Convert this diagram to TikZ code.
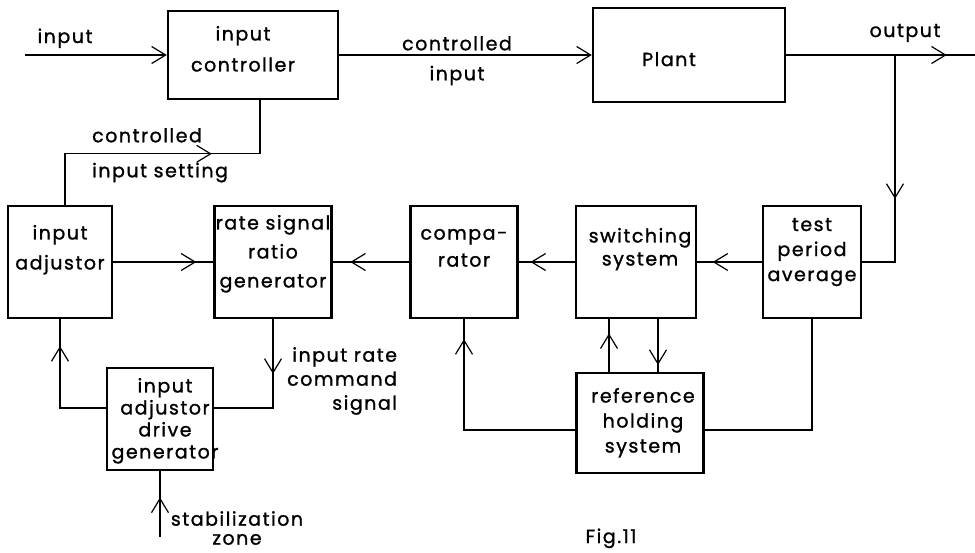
\documentclass[tikz,border=0pt]{standalone}
\usepackage{fontspec}
\setmainfont{Poppins}[LetterSpace=8, FakeBold=1.2]
\usetikzlibrary{positioning}
\usetikzlibrary{arrows.meta}
\usetikzlibrary{decorations.markings}

\begin{document}
\begin{tikzpicture}[
    x=1pt, y=-1pt,
    font=\fontsize{19}{25}\selectfont,
    block/.style={
        rectangle,
        draw,
        line width=2.4pt,
        inner sep=0pt
    },
    caption/.style={
        anchor=north,
        align=center,
        inner sep=0pt
    },
    link/.style={line width=1.2pt},
    flow/.style={
        postaction={decorate},
        decoration={markings, mark=at position #1 with {\arrow{Straight Barb[length=14pt,width=17pt]}}}
    }
]
    \useasboundingbox (0,0) rectangle (975,552);

    % top row
    \node[block, minimum width=170pt, minimum height=88pt,
        label={[caption, xshift=-10pt, yshift=-16pt, font=\fontsize{19}{31}\selectfont]north:{input\\controller}}] (ctrl) at (253,55) {};
    \node[block, minimum width=192pt, minimum height=94pt,
        label={[caption, xshift=-20pt, yshift=-45pt]north:{Plant}}] (plant) at (689,55) {};

    % middle row
    \node[block, minimum width=104pt, minimum height=112pt,
        label={[caption, yshift=-20pt, font=\fontsize{19}{30}\selectfont]north:{input\\adjustor}}] (adj) at (60,262) {};
    \node[block, minimum width=117pt, minimum height=112pt,
        label={[caption, yshift=-10pt, font=\fontsize{19}{29}\selectfont]north:{rate signal\\ratio\\generator}}] (rate) at (273,262) {};
    \node[block, minimum width=107pt, minimum height=112pt,
        label={[caption, yshift=-24pt, font=\fontsize{19}{27}\selectfont]north:{compa-\\rator}}] (comp) at (464,262) {};
    \node[block, minimum width=120pt, minimum height=112pt,
        label={[caption, xshift=4pt, yshift=-23pt, font=\fontsize{19}{23}\selectfont]north:{switching\\system}}] (sw) at (636,262) {};
    \node[block, minimum width=98pt, minimum height=112pt,
        label={[caption, yshift=-13pt]north:{test\\period\\average}}] (tpa) at (812,262) {};

    % bottom row
    \node[block, minimum width=106pt, minimum height=102pt,
        label={[caption, xshift=5pt, yshift=-11pt, font=\fontsize{19}{22}\selectfont]north:{input\\adjustor\\drive\\generator}}] (drv) at (160,419) {};
    \node[block, minimum width=127pt, minimum height=100pt,
        label={[caption, xshift=3pt, yshift=-16pt]north:{reference\\holding\\system}}] (ref) at (640,423) {};

    % free ends
    \coordinate (src) at (25,55);
    \coordinate (sink) at (975,55);
    \coordinate (tap) at (895,55);
    \coordinate (zone) at (160,537);

    % connectors
    \draw[link, -{Straight Barb[length=14pt,width=17pt]}] (src) -- (ctrl.west);
    \draw[link, -{Straight Barb[length=14pt,width=17pt]}] (ctrl.east) -- (plant.west);
    \draw[link, flow=0.85] (plant.east) -- (sink);
    \draw[link, flow=0.6] (tap) |- (tpa.east);
    \draw[link, flow=0.76] (tpa.west) -- (sw.east);
    \draw[link, flow=0.79] (sw.west) -- (comp.east);
    \draw[link, flow=0.77] (comp.west) -- (rate.east);
    \draw[link, flow=0.83] (adj.east) -- (rate.west);
    \draw[link, flow=0.37] (rate.south) |- ([yshift=11pt]drv.east);
    \draw[link, flow=0.8] ([yshift=11pt]drv.west) -| (adj.south);
    \draw[link, flow=0.6] (zone) -- (drv.south);
    \draw[link, flow=0.66] ([xshift=5pt]adj.north) -- ++(0,-51) -| ([xshift=7pt]ctrl.south);
    \draw[link, flow=0.73] ([xshift=-27pt]sw.south |- ref.north) -- ([xshift=-27pt]sw.south);
    \draw[link, flow=0.87] ([xshift=22pt]sw.south) -- ([xshift=22pt]sw.south |- ref.north);
    \draw[link, flow=0.91] ([yshift=-7pt]ref.west) -| (comp.south);
    \draw[link] ([yshift=-7pt]ref.east) -| (tpa.south);

    % signal labels
    \node[anchor=base] (inlbl) at (65,43) {input};
    \node[caption, font=\fontsize{19}{30}\selectfont] (cinlbl) at (457,36) {controlled\\input};
    \node[anchor=base] (outlbl) at (905,37) {output};
    \node[caption, anchor=north west, align=left, font=\fontsize{19}{35}\selectfont] (setlbl) at (92,128) {controlled\\input setting};
    \node[caption, anchor=north west, align=right, font=\fontsize{19}{24}\selectfont] (ratelbl) at (287,347) {input rate\\command\\signal};
    \node[caption, font=\fontsize{19}{19}\selectfont] (stablbl) at (237,511) {stabilization\\zone};
    \node[anchor=base] (fig) at (611,543) {Fig.11};
\end{tikzpicture}
\end{document}
